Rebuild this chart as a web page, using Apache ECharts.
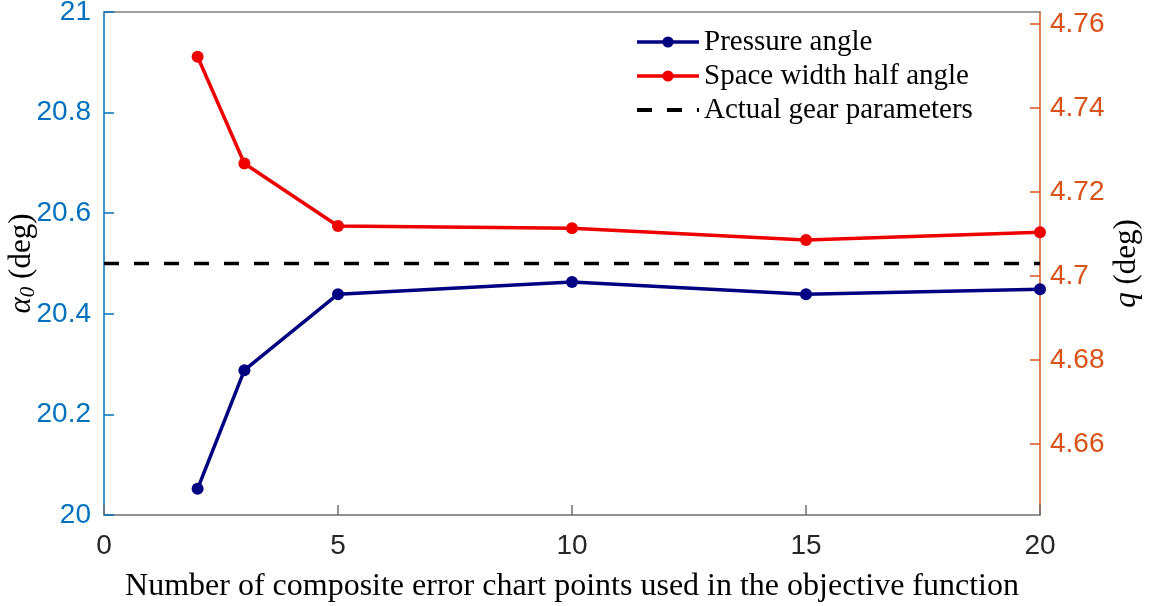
<!DOCTYPE html>
<html>
<head>
<meta charset="utf-8">
<script src="https://cdn.jsdelivr.net/npm/echarts@6/dist/echarts.min.js"></script>
<style>html,body{margin:0;padding:0;background:#fff;}#c{width:1150px;height:606px;}</style>
</head>
<body>
<div id="c"></div>
<script>
var xPoints = [2, 3, 5, 10, 15, 20];
var pressureAngle = [20.052, 20.288, 20.439, 20.463, 20.439, 20.449];
var spaceWidthHalfAngle = [4.7522, 4.7268, 4.7119, 4.7114, 4.7086, 4.7104];
var actualX = [0, 20];
var actualValue = [20.5, 20.5];
var leftTicks = [20, 20.2, 20.4, 20.6, 20.8, 21];
var rightTicks = [4.66, 4.68, 4.70, 4.72, 4.74, 4.76];
var xTicks = [0, 5, 10, 15, 20];
var seriesNames = ['Pressure angle', 'Space width half angle', 'Actual gear parameters'];
var xTitle = 'Number of composite error chart points used in the objective function';

var chart = echarts.init(document.getElementById('c'), null, {renderer: 'canvas'});
var sansFont = '"Liberation Sans", Arial, sans-serif';
var serifFont = '"Liberation Serif", "Times New Roman", serif';

function zip(xs, ys) { return xs.map(function (x, i) { return [x, ys[i]]; }); }

var option = {
  backgroundColor: '#ffffff',
  animation: false,
  grid: {left: 104, right: 110, top: 12, bottom: 91, containLabel: false, outerBoundsMode: 'none'},
  legend: {
    orient: 'vertical',
    left: 635,
    top: 27,
    padding: 0,
    itemWidth: 62,
    itemHeight: 14,
    itemGap: 4,
    lineStyle: {width: 3.5},
    data: [
      {name: seriesNames[0], lineStyle: {width: 3.5}},
      {name: seriesNames[1], lineStyle: {width: 3.5}},
      {name: seriesNames[2], itemStyle: {color: 'rgba(0,0,0,0)', borderWidth: 0}, lineStyle: {width: 4}}
    ],
    textStyle: {fontFamily: serifFont, fontSize: 29, color: '#000', lineHeight: 30}
  },
  xAxis: [{
    type: 'value',
    position: 'bottom',
    min: 0, max: 20, interval: 5,
    name: xTitle,
    nameLocation: 'middle',
    nameGap: 56,
    nameMoveOverlap: false,
    nameTextStyle: {fontFamily: serifFont, fontSize: 32, color: '#000'},
    axisLine: {show: true, onZero: false, lineStyle: {color: '#6f6f6f', width: 1.5}},
    axisTick: {show: true, inside: true, length: 10, lineStyle: {color: '#6f6f6f', width: 1.5}},
    axisLabel: {fontFamily: sansFont, fontSize: 28, color: '#262626', margin: 17},
    splitLine: {show: false}
  }, {
    type: 'value',
    position: 'top',
    min: 0, max: 20,
    axisLine: {show: true, onZero: false, lineStyle: {color: '#7f7f7f', width: 1.5}},
    axisTick: {show: false},
    axisLabel: {show: false},
    splitLine: {show: false}
  }],
  yAxis: [{
    type: 'value',
    position: 'left',
    min: 20, max: 21, interval: 0.2,
    name: '{a|α}{s|0} {d|(deg)}',
    nameLocation: 'middle',
    nameRotate: 90,
    nameGap: 65,
    nameMoveOverlap: false,
    nameTextStyle: {
      fontFamily: serifFont, fontSize: 31, color: '#000',
      rich: {
        a: {fontFamily: serifFont, fontStyle: 'italic', fontSize: 31, color: '#000'},
        s: {fontFamily: serifFont, fontStyle: 'italic', fontSize: 21, color: '#000', padding: [14, 0, 0, 0]},
        d: {fontFamily: serifFont, fontSize: 31, color: '#000'}
      }
    },
    axisLine: {show: true, onZero: false, lineStyle: {color: '#0072BD', width: 1.5}},
    axisTick: {show: true, inside: true, length: 10, lineStyle: {color: '#0072BD', width: 1.5}},
    axisLabel: {fontFamily: sansFont, fontSize: 28, color: '#0072BD', margin: 13},
    splitLine: {show: false}
  }, {
    type: 'value',
    position: 'right',
    min: 4.6431, max: 4.76286,
    name: '{q|q} {d|(deg)}',
    nameLocation: 'middle',
    nameRotate: 90,
    nameGap: 71,
    nameMoveOverlap: false,
    nameTextStyle: {
      fontFamily: serifFont, fontSize: 31, color: '#000',
      rich: {
        q: {fontFamily: serifFont, fontStyle: 'italic', fontSize: 31, color: '#000'},
        d: {fontFamily: serifFont, fontSize: 31, color: '#000'}
      }
    },
    axisLine: {show: true, onZero: false, lineStyle: {color: '#D95319', width: 1.5}},
    axisTick: {show: true, inside: true, length: 10, customValues: rightTicks, lineStyle: {color: '#D95319', width: 1.5}},
    axisLabel: {
      fontFamily: sansFont, fontSize: 28, color: '#D95319', margin: 10,
      customValues: rightTicks,
      formatter: function (v) { return String(parseFloat(Number(v).toFixed(4))); }
    },
    splitLine: {show: false}
  }],
  series: [{
    name: seriesNames[0],
    type: 'line',
    xAxisIndex: 0, yAxisIndex: 0,
    data: zip(xPoints, pressureAngle),
    symbol: 'circle', symbolSize: 12,
    lineStyle: {color: '#000080', width: 3.5},
    itemStyle: {color: '#000080'},
    z: 3
  }, {
    name: seriesNames[1],
    type: 'line',
    xAxisIndex: 0, yAxisIndex: 1,
    data: zip(xPoints, spaceWidthHalfAngle),
    symbol: 'circle', symbolSize: 12,
    lineStyle: {color: '#EE0000', width: 3.5},
    itemStyle: {color: '#EE0000'},
    z: 3
  }, {
    name: seriesNames[2],
    type: 'line',
    xAxisIndex: 0, yAxisIndex: 0,
    data: zip(actualX, actualValue),
    symbol: 'none',
    lineStyle: {color: '#000', width: 3.5, type: [15, 15]},
    itemStyle: {color: '#000'},
    z: 2
  }]
};
chart.setOption(option);
</script>
</body>
</html>
